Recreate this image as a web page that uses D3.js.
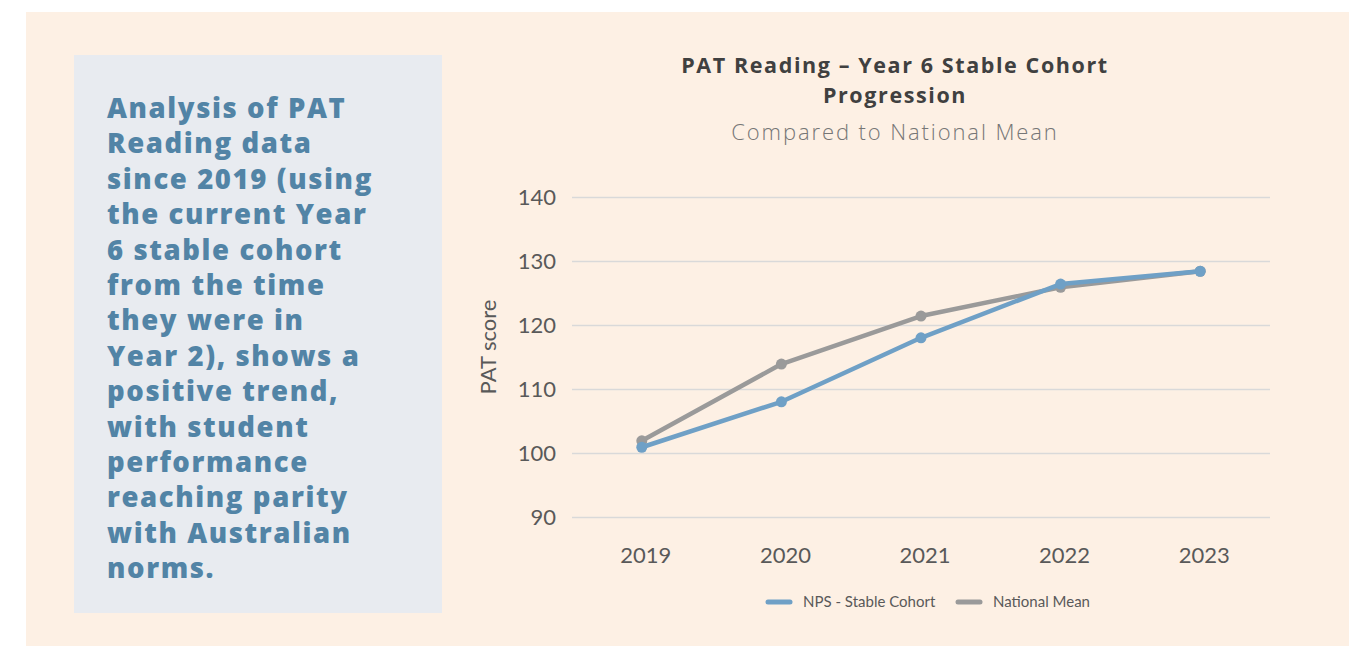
<!DOCTYPE html>
<html>
<head>
<meta charset="utf-8">
<script src="https://cdn.jsdelivr.net/npm/d3@7"></script>
<style>
  body { margin: 0; background: #ffffff; }
  svg { display: block; }
</style>
</head>
<body>
<div id="chart"></div>
<script>
var years = ["2019", "2020", "2021", "2022", "2023"];
var npsValues = [100.9, 108.0, 118.0, 126.4, 128.4];
var nationalValues = [101.9, 113.9, 121.4, 125.9, 128.4];
var yTicks = [90, 100, 110, 120, 130, 140];
var seriesNames = ["NPS - Stable Cohort", "National Mean"];
var seriesColors = ["#6fa0c6", "#9a9a9a"];
var noteLines = [
  "Analysis of PAT",
  "Reading data",
  "since 2019 (using",
  "the current Year",
  "6 stable cohort",
  "from the time",
  "they were in",
  "Year 2), shows a",
  "positive trend,",
  "with student",
  "performance",
  "reaching parity",
  "with Australian",
  "norms."
];

var svgWidth = 1358;
var svgHeight = 646;

var svg = d3.select("#chart")
            .append("svg")
            .attr("width", svgWidth)
            .attr("height", svgHeight);

// peach panel
svg.append("rect")
   .attr("x", 26).attr("y", 12)
   .attr("width", 1323).attr("height", 634)
   .attr("fill", "#fdf0e4");

// left note box
svg.append("rect")
   .attr("x", 74).attr("y", 55)
   .attr("width", 368).attr("height", 558)
   .attr("fill", "#e8ebf0");

svg.append("g")
   .selectAll("text")
   .data(noteLines)
   .enter()
   .append("text")
   .attr("x", 107)
   .attr("y", (d, i) => 118 + i * 35.4)
   .attr("font-family", "'Open Sans', sans-serif")
   .attr("font-weight", 800)
   .attr("font-size", "27.5px")
   .attr("letter-spacing", "1.6px")
   .attr("fill", "#5284a6")
   .text(d => d);

// titles
var titleX = 895;
svg.append("text")
   .attr("x", titleX).attr("y", 73)
   .attr("text-anchor", "middle")
   .attr("font-family", "'Open Sans', sans-serif")
   .attr("font-weight", 700)
   .attr("font-size", "21.5px")
   .attr("letter-spacing", "1.6px")
   .attr("fill", "#404040")
   .text("PAT Reading \u2013 Year 6 Stable Cohort");
svg.append("text")
   .attr("x", titleX).attr("y", 103)
   .attr("text-anchor", "middle")
   .attr("font-family", "'Open Sans', sans-serif")
   .attr("font-weight", 700)
   .attr("font-size", "21.5px")
   .attr("letter-spacing", "1.6px")
   .attr("fill", "#404040")
   .text("Progression");
svg.append("text")
   .attr("x", titleX).attr("y", 140)
   .attr("text-anchor", "middle")
   .attr("font-family", "'Open Sans', sans-serif")
   .attr("font-weight", 300)
   .attr("font-size", "22px")
   .attr("letter-spacing", "1.9px")
   .attr("fill", "#767676")
   .text("Compared to National Mean");

// plot area
var plot = { left: 572, right: 1270, top: 197, bottom: 517 };

var x = d3.scaleBand()
          .domain(years)
          .range([plot.left, plot.right]);

var y = d3.scaleLinear()
          .domain([90, 140])
          .range([plot.bottom, plot.top]);

// gridlines + y labels
var yAxis = svg.append("g")
               .attr("transform", `translate(${plot.left}, 0)`)
               .call(d3.axisLeft(y).tickValues(yTicks).tickSize(-(plot.right - plot.left)).tickPadding(16));
yAxis.select(".domain").remove();
yAxis.selectAll(".tick line").attr("stroke", "#d9d9d9").attr("stroke-width", 1.5);
yAxis.selectAll(".tick text")
     .attr("font-family", "Lato, sans-serif")
     .attr("font-size", "22px")
     .attr("fill", "#595959");

var xAxis = svg.append("g")
               .attr("transform", `translate(4, ${plot.bottom})`)
               .call(d3.axisBottom(x).tickSize(0).tickPadding(30));
xAxis.select(".domain").remove();
xAxis.selectAll(".tick text")
     .attr("font-family", "Lato, sans-serif")
     .attr("font-size", "22px")
     .attr("fill", "#595959");

svg.append("text")
   .attr("transform", "translate(496, 347) rotate(-90)")
   .attr("text-anchor", "middle")
   .attr("font-family", "Lato, sans-serif")
   .attr("font-size", "22px")
   .attr("fill", "#595959")
   .text("PAT score");

// series (national first so NPS sits on top)
var series = [
  { name: seriesNames[1], values: nationalValues, color: seriesColors[1] },
  { name: seriesNames[0], values: npsValues, color: seriesColors[0] }
];

var line = d3.line()
             .x((d, i) => x(years[i]) + x.bandwidth() / 2)
             .y(d => y(d));

series.forEach(function(s) {
    svg.append("path")
       .datum(s.values)
       .attr("d", line)
       .attr("fill", "none")
       .attr("stroke", s.color)
       .attr("stroke-width", 4.5)
       .attr("stroke-linejoin", "round");
    svg.append("g")
       .selectAll("circle")
       .data(s.values)
       .enter()
       .append("circle")
       .attr("cx", (d, i) => x(years[i]) + x.bandwidth() / 2)
       .attr("cy", d => y(d))
       .attr("r", 5.5)
       .attr("fill", s.color);
});

// legend
var legendItems = [
  { name: seriesNames[0], color: seriesColors[0], x: 768 },
  { name: seriesNames[1], color: seriesColors[1], x: 958 }
];
var legend = svg.append("g");
legendItems.forEach(function(item) {
    legend.append("line")
          .attr("x1", item.x).attr("x2", item.x + 22)
          .attr("y1", 602).attr("y2", 602)
          .attr("stroke", item.color)
          .attr("stroke-width", 5)
          .attr("stroke-linecap", "round");
    legend.append("text")
          .attr("x", item.x + 35).attr("y", 607)
          .attr("font-family", "Lato, sans-serif")
          .attr("font-size", "15px")
          .attr("fill", "#595959")
          .text(item.name);
});
</script>
</body>
</html>
